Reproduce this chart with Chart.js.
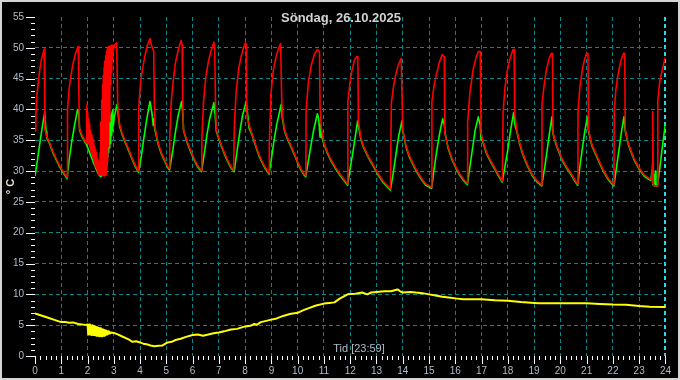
<!DOCTYPE html>
<html>
<head>
<meta charset="utf-8">
<script src="https://cdn.jsdelivr.net/npm/chart.js@4.4.1/dist/chart.umd.min.js"></script>
<style>
  html, body { margin: 0; padding: 0; background: #000; }
  #wrap { position: relative; width: 680px; height: 380px; }
</style>
</head>
<body>
<div id="wrap"><canvas id="c" width="680" height="380"></canvas></div>
<script>
// ---- Labels ----
const chartTitle = 'Söndag, 26.10.2025';
const timeLabel = 'Tid [23:59]';
const yAxisLabel = '° C';
const hourTicks = [0,1,2,3,4,5,6,7,8,9,10,11,12,13,14,15,16,17,18,19,20,21,22,23,24];
const tempTicks = [0,5,10,15,20,25,30,35,40,45,50,55];

// ---- Red series (hour, °C) ----
const redSeries = [
  [0.00,36.5],[0.03,38.5],[0.06,41.8],[0.13,44.6],[0.19,46.7],[0.25,48.2],[0.32,49.3],[0.35,49.8],[0.375,36.8],
  [0.45,35.6],[0.56,34.6],[0.68,33.2],[0.81,32.0],[0.94,30.9],[1.06,30.0],[1.22,29.0],
  [1.225,35.0],[1.25,39.9],[1.30,43.4],[1.36,45.3],[1.45,47.5],[1.55,49.2],[1.63,50.1],[1.65,50.2],[1.67,42.5],
  [1.69,37.0],[1.80,35.7],[1.96,34.5],
  [1.97,40.7],[1.985,35.2],[2.00,39.5],[2.015,34.8],[2.03,38.4],[2.045,34.4],[2.06,37.6],[2.075,34.0],
  [2.09,37.0],[2.105,33.6],[2.12,36.5],[2.135,33.2],[2.15,36.0],[2.165,32.8],[2.18,35.5],[2.195,32.3],
  [2.21,35.0],[2.225,31.9],[2.24,34.5],[2.255,31.5],[2.27,34.0],[2.285,31.1],[2.30,33.5],[2.315,30.7],
  [2.33,33.0],[2.345,30.4],[2.36,32.5],[2.375,30.1],[2.39,32.0],[2.405,29.8],[2.42,31.6],[2.435,29.5],
  [2.45,31.2],[2.465,29.4],
  [2.48,33.0],[2.495,29.4],[2.51,38.0],[2.525,29.4],[2.54,41.5],[2.555,29.3],[2.57,44.0],[2.585,29.3],
  [2.60,45.5],[2.615,29.3],[2.63,46.8],[2.645,29.2],[2.66,47.8],[2.675,29.3],[2.69,48.7],[2.705,29.4],
  [2.72,49.3],[2.735,29.8],[2.75,49.8],[2.765,31.5],[2.78,50.0],[2.795,34.0],[2.81,50.2],[2.825,38.0],
  [2.84,50.3],[2.855,41.5],[2.87,50.3],[2.885,44.0],[2.90,50.4],[2.915,46.0],[2.93,50.4],[2.945,48.0],
  [2.96,50.4],[2.975,49.5],[3.04,50.5],[3.11,50.8],[3.15,40.6],[3.20,38.0],[3.31,36.2],[3.44,34.8],[3.56,33.6],
  [3.69,32.2],[3.81,31.0],[3.94,30.0],
  [3.95,40.3],[4.02,44.5],[4.10,46.8],[4.18,48.6],[4.27,50.3],[4.375,51.5],[4.45,50.2],[4.52,49.5],
  [4.54,41.9],[4.57,37.0],[4.70,34.4],[4.81,33.0],[4.94,31.8],[5.06,30.7],[5.125,30.4],
  [5.13,35.6],[5.19,41.5],[5.26,44.5],[5.34,47.4],[5.45,49.6],[5.56,51.2],[5.60,50.5],[5.62,42.0],
  [5.65,36.7],[5.81,34.6],[5.94,33.2],[6.06,32.0],[6.19,30.9],[6.34,30.1],
  [6.35,35.0],[6.42,41.5],[6.51,45.5],[6.61,48.0],[6.71,49.6],[6.81,50.9],[6.84,50.0],[6.875,40.5],
  [6.90,36.7],[7.06,34.6],[7.19,33.2],[7.31,32.0],[7.45,30.8],[7.56,30.1],
  [7.59,37.5],[7.66,43.0],[7.76,46.8],[7.86,48.8],[7.94,50.0],[8.01,50.8],[8.04,50.6],[8.05,41.3],
  [8.08,38.5],[8.25,36.2],[8.38,34.5],[8.50,33.0],[8.62,31.8],[8.75,30.7],[8.91,29.7],
  [8.92,34.5],[8.98,42.5],[9.07,46.3],[9.19,48.8],[9.29,50.1],[9.35,50.7],[9.39,42.1],[9.42,39.0],
  [9.50,36.7],[9.62,35.3],[9.75,34.1],[9.88,32.8],[10.00,31.5],[10.12,30.4],[10.25,29.5],[10.31,29.3],
  [10.32,39.8],[10.41,44.5],[10.52,47.2],[10.64,49.0],[10.75,49.7],[10.83,49.4],[10.85,40.5],[10.90,37.0],
  [11.00,34.6],[11.12,33.2],[11.25,32.0],[11.44,30.6],[11.63,29.4],[11.78,28.6],[11.90,27.9],
  [11.91,41.3],[11.98,44.0],[12.06,46.2],[12.16,48.0],[12.25,48.6],[12.29,48.6],[12.31,38.2],[12.40,35.5],
  [12.50,34.1],[12.69,32.4],[12.88,31.0],[13.06,29.6],[13.25,28.4],[13.40,27.7],[13.53,27.1],
  [13.565,41.0],[13.63,43.2],[13.71,45.2],[13.82,47.1],[13.94,48.3],[13.97,48.3],[14.00,36.7],[14.12,34.2],
  [14.25,32.5],[14.44,30.8],[14.63,29.4],[14.75,28.6],[14.88,27.9],[15.10,27.4],
  [15.11,41.3],[15.19,43.8],[15.28,45.7],[15.39,47.6],[15.50,48.9],[15.58,48.5],[15.60,36.2],[15.72,34.0],
  [15.88,32.0],[16.04,30.5],[16.19,29.4],[16.33,28.6],[16.46,28.0],
  [16.47,37.9],[16.56,42.9],[16.68,46.5],[16.79,48.4],[16.875,49.4],[16.95,49.4],[16.98,36.2],[17.06,34.8],
  [17.19,33.0],[17.31,32.0],[17.44,31.0],[17.62,29.6],[17.79,28.4],
  [17.82,39.5],[17.89,43.5],[17.98,46.3],[18.09,48.4],[18.20,49.7],[18.24,49.7],[18.26,39.3],[18.35,36.5],
  [18.45,34.6],[18.56,33.0],[18.75,31.0],[18.94,29.4],[19.12,28.4],[19.29,27.8],
  [19.30,40.8],[19.37,43.5],[19.45,46.0],[19.56,48.1],[19.66,49.1],[19.70,49.1],[19.72,36.2],[19.85,34.3],
  [20.06,32.0],[20.25,30.6],[20.44,29.4],[20.56,28.5],[20.66,27.9],
  [20.67,39.5],[20.74,43.5],[20.83,46.3],[20.92,48.1],[21.00,49.1],[21.05,49.1],[21.07,36.7],[21.20,34.3],[21.44,32.0],
  [21.62,30.3],[21.81,28.9],[21.94,28.2],[22.04,27.8],
  [22.05,40.0],[22.12,43.5],[22.21,46.0],[22.31,48.0],[22.41,49.1],[22.45,49.1],[22.47,36.7],[22.60,34.3],
  [22.81,32.0],[23.00,30.5],[23.19,29.4],[23.35,28.9],[23.48,28.6],[23.50,31.2],[23.51,28.0],[23.52,39.6],
  [23.54,27.8],[23.60,27.6],[23.69,27.6],
  [23.71,41.5],[23.78,44.5],[23.87,46.2],[23.95,47.7],[24.00,48.5]
];

// ---- Green series (hour, °C) ----
const greenSeries = [
  [0.00,29.2],[0.05,30.6],[0.10,32.0],[0.15,33.5],[0.20,35.0],[0.25,36.4],[0.30,37.8],[0.37,39.5],
  [0.42,36.4],[0.45,35.4],[0.56,34.4],[0.68,33.0],[0.81,31.8],[0.94,30.7],[1.06,29.8],[1.22,28.8],
  [1.30,31.8],[1.40,34.8],[1.50,37.3],[1.62,40.0],[1.66,39.5],[1.70,36.6],[1.80,35.5],[1.96,34.3],
  [2.10,32.8],[2.25,31.1],[2.40,29.6],[2.50,29.1],[2.56,29.3],
  [2.575,35.2],[2.59,29.4],[2.605,35.6],[2.62,29.6],[2.635,36.0],[2.65,29.8],[2.665,36.4],[2.68,30.2],
  [2.695,36.8],[2.71,30.8],[2.725,37.2],[2.74,31.5],[2.755,37.6],[2.77,32.2],[2.785,38.0],[2.80,33.0],
  [2.815,38.4],[2.83,33.8],[2.845,38.7],[2.86,34.5],[2.875,39.0],[2.89,35.2],[2.905,39.3],[2.92,35.8],
  [2.935,39.6],[2.95,36.5],[2.965,39.9],[2.98,37.3],[3.02,38.8],[3.08,40.0],[3.12,40.8],[3.16,39.5],
  [3.22,37.3],[3.31,36.0],[3.44,34.6],[3.56,33.4],[3.69,32.0],[3.81,30.8],[3.94,29.8],
  [4.05,32.5],[4.15,35.5],[4.25,38.3],[4.375,41.3],[4.45,39.5],[4.50,37.4],[4.52,38.5],[4.56,36.8],
  [4.70,34.2],[4.81,32.8],[4.94,31.6],[5.06,30.5],[5.125,30.2],
  [5.25,33.5],[5.35,36.5],[5.45,39.0],[5.58,41.3],[5.62,39.5],[5.66,36.5],[5.81,34.4],[5.94,33.0],
  [6.06,31.8],[6.19,30.7],[6.34,29.9],
  [6.45,33.0],[6.55,36.0],[6.65,38.5],[6.81,41.1],[6.86,39.0],[6.90,36.5],[7.06,34.4],[7.19,33.0],
  [7.31,31.8],[7.45,30.6],[7.58,29.9],
  [7.70,33.5],[7.80,36.5],[7.90,39.0],[8.04,41.3],[8.10,39.0],[8.15,37.0],[8.25,36.0],[8.38,34.3],
  [8.50,32.8],[8.62,31.6],[8.75,30.5],[8.91,29.5],
  [9.00,32.0],[9.10,35.0],[9.20,37.5],[9.37,40.8],[9.42,38.5],[9.50,36.5],[9.62,35.1],[9.75,33.9],
  [9.88,32.6],[10.00,31.3],[10.12,30.2],[10.25,29.3],[10.31,29.1],
  [10.40,31.5],[10.50,34.0],[10.60,36.5],[10.75,39.3],[10.80,38.5],[10.85,35.5],[10.87,37.5],[10.92,35.5],
  [11.00,34.4],[11.12,33.0],[11.25,31.8],[11.44,30.4],[11.63,29.2],[11.78,28.4],[11.90,27.7],
  [12.00,30.5],[12.10,33.0],[12.20,35.8],[12.28,38.1],[12.35,36.5],[12.40,35.3],[12.50,33.9],[12.69,32.2],
  [12.88,30.8],[13.06,29.4],[13.25,28.2],[13.40,27.5],[13.53,26.9],
  [13.65,30.0],[13.75,33.0],[13.85,35.8],[13.97,38.1],[14.00,36.5],[14.12,34.0],[14.25,32.3],[14.44,30.6],
  [14.63,29.2],[14.75,28.4],[14.88,27.7],[15.10,27.2],
  [15.20,30.5],[15.30,33.5],[15.40,36.0],[15.52,38.5],[15.58,37.5],[15.62,36.0],[15.72,33.8],[15.88,31.8],
  [16.04,30.3],[16.19,29.2],[16.33,28.4],[16.46,27.8],
  [16.55,30.5],[16.65,33.5],[16.75,36.5],[16.875,38.8],[16.95,37.5],[16.98,35.0],[17.00,35.5],[17.06,34.6],
  [17.19,32.8],[17.31,31.8],[17.44,30.8],[17.62,29.4],[17.79,28.2],
  [17.90,31.0],[18.00,33.5],[18.10,36.5],[18.22,39.5],[18.27,37.5],[18.35,36.3],[18.45,34.4],[18.56,32.8],
  [18.75,30.8],[18.94,29.2],[19.12,28.2],[19.29,27.6],
  [19.40,30.5],[19.50,33.5],[19.58,36.0],[19.68,38.8],[19.72,36.0],[19.85,34.1],[20.06,31.8],[20.25,30.4],
  [20.44,29.2],[20.56,28.3],[20.66,27.7],
  [20.75,31.0],[20.85,34.0],[20.93,36.5],[21.03,38.8],[21.07,36.5],[21.20,34.1],[21.44,31.8],[21.62,30.1],
  [21.81,28.7],[21.94,28.0],[22.04,27.6],
  [22.15,31.0],[22.25,34.0],[22.33,36.5],[22.42,38.8],[22.47,36.5],[22.60,34.1],[22.81,31.8],[23.00,30.3],
  [23.19,29.2],[23.35,28.7],[23.44,28.5],[23.50,30.3],[23.52,27.8],[23.56,29.5],[23.58,27.6],[23.62,30.0],
  [23.64,27.6],[23.69,27.5],
  [23.80,31.0],[23.90,34.5],[24.00,37.7]
];

// ---- Yellow series (hour, °C) ----
const yellowSeries = [
  [0.00,6.9],[0.15,6.7],[0.30,6.5],[0.50,6.2],[0.71,5.9],[0.85,5.7],[1.00,5.5],[1.15,5.5],
  [1.30,5.4],[1.45,5.45],[1.55,5.3],[1.65,5.2],[1.80,5.1],[1.95,5.05],
  [2.00,5.1],[2.03,3.5],[2.06,5.1],[2.09,3.5],[2.12,5.0],[2.15,3.4],[2.18,5.0],[2.21,3.4],
  [2.24,4.9],[2.27,3.4],[2.30,4.8],[2.33,3.3],[2.36,4.7],[2.39,3.3],[2.42,4.6],[2.45,3.2],
  [2.48,4.5],[2.51,3.2],[2.54,4.4],[2.57,3.2],[2.60,4.3],[2.63,3.3],[2.66,4.2],[2.69,3.4],
  [2.72,4.1],[2.75,3.5],[2.78,4.0],[2.81,3.6],[2.84,3.9],[2.87,3.7],[2.90,3.8],
  [3.00,3.75],[3.15,3.5],[3.30,3.2],[3.46,2.9],[3.60,2.6],[3.71,2.3],[3.85,2.4],[4.00,2.2],
  [4.12,2.0],[4.25,1.9],[4.40,1.7],[4.55,1.6],[4.70,1.65],[4.84,1.7],[5.00,2.1],[5.10,2.25],
  [5.20,2.3],[5.35,2.6],[5.55,2.8],[5.75,3.1],[6.00,3.4],[6.20,3.5],[6.40,3.3],[6.60,3.5],
  [6.80,3.7],[7.00,3.8],[7.20,4.0],[7.46,4.3],[7.69,4.4],[8.00,4.8],[8.20,4.9],[8.35,5.2],
  [8.44,5.05],[8.60,5.5],[8.80,5.7],[9.00,5.9],[9.20,6.1],[9.45,6.5],[9.70,6.8],[10.00,7.0],
  [10.20,7.4],[10.45,7.8],[10.70,8.2],[11.00,8.5],[11.20,8.6],[11.40,8.7],[11.60,9.3],[11.90,10.0],
  [12.00,10.05],[12.20,10.1],[12.45,10.3],[12.65,10.0],[12.80,10.3],[13.00,10.4],[13.30,10.5],[13.55,10.5],
  [13.80,10.8],[13.90,10.5],[14.00,10.3],[14.30,10.4],[14.50,10.3],[14.75,10.2],[15.00,10.0],[15.25,9.8],
  [15.50,9.6],[15.75,9.5],[16.00,9.35],[16.30,9.2],[16.70,9.2],[17.00,9.2],[17.50,9.05],[18.00,8.95],
  [18.50,8.75],[19.00,8.6],[19.20,8.55],[19.50,8.55],[20.00,8.55],[20.50,8.55],[21.00,8.55],[21.50,8.45],
  [22.00,8.35],[22.50,8.3],[23.00,8.1],[23.40,8.0],[24.00,7.95]
];

const toXY = arr => arr.map(p => ({ x: p[0], y: p[1] }));

const GRID = '#07878c';
const LABEL = '#aebccb';

const decor = {
  id: 'decor',
  beforeDraw(chart) {
    const ctx = chart.ctx;
    ctx.save();
    ctx.fillStyle = '#000';
    ctx.fillRect(0, 0, chart.width, chart.height);
    ctx.restore();
  },
  afterDraw(chart) {
    const { ctx, chartArea: a, scales } = chart;
    const x = scales.x, y = scales.y;
    ctx.save();
    ctx.strokeStyle = '#ffffff';
    ctx.lineWidth = 1;
    ctx.beginPath();
    const yMajor = tempTicks[1] - tempTicks[0];
    for (let v = tempTicks[0]; v <= tempTicks[tempTicks.length - 1]; v++) {
      const py = Math.round(y.getPixelForValue(v)) + 0.5;
      const len = (v % yMajor === 0) ? 9 : 4;
      ctx.moveTo(a.left - len, py);
      ctx.lineTo(a.left, py);
    }
    const last = hourTicks[hourTicks.length - 1];
    for (let i = 0; i <= last * 5; i++) {
      const px = Math.round(x.getPixelForValue(i / 5)) + 0.5;
      const len = (i % 5 === 0) ? 8 : 4;
      ctx.moveTo(px, a.bottom);
      ctx.lineTo(px, a.bottom + len);
    }
    ctx.stroke();

    // title inside plot
    ctx.fillStyle = '#d2d2d2';
    ctx.font = 'bold 13px "Liberation Sans", Arial, sans-serif';
    ctx.textAlign = 'center';
    ctx.textBaseline = 'alphabetic';
    ctx.fillText(chartTitle, 341, 22);

    // time label above x axis
    ctx.fillStyle = LABEL;
    ctx.font = '11px "Liberation Sans", Arial, sans-serif';
    ctx.fillText(timeLabel, 359, 352);

    // outer frame
    ctx.strokeStyle = '#d4d4d4';
    ctx.lineWidth = 2;
    ctx.strokeRect(1, 1, chart.width - 2, chart.height - 2);
    ctx.restore();
  }
};

const lineStyle = { pointRadius: 0, tension: 0, borderJoinStyle: 'round', borderCapStyle: 'butt' };

new Chart(document.getElementById('c'), {
  type: 'line',
  data: {
    datasets: [
      Object.assign({ label: 'red', data: toXY(redSeries), borderColor: '#ff0000', borderWidth: 1.6, order: 0 }, lineStyle),
      Object.assign({ label: 'green', data: toXY(greenSeries), borderColor: '#00ff00', borderWidth: 1.6, order: 1 }, lineStyle),
      Object.assign({ label: 'yellow', data: toXY(yellowSeries), borderColor: '#ffff00', borderWidth: 2, order: 2 }, lineStyle)
    ]
  },
  options: {
    responsive: false,
    animation: false,
    devicePixelRatio: 1,
    layout: { padding: { left: 0, right: 5, top: 3, bottom: 0 } },
    plugins: { legend: { display: false }, tooltip: { enabled: false }, title: { display: false } },
    scales: {
      x: {
        type: 'linear',
        min: hourTicks[0],
        max: hourTicks[hourTicks.length - 1],
        afterBuildTicks: s => { s.ticks = hourTicks.map(v => ({ value: v })); },
        afterFit: s => { s.height = 24; },
        ticks: { autoSkip: false, maxRotation: 0, color: LABEL, padding: 9,
                 font: { family: '"Liberation Sans", Arial, sans-serif', size: 10 } },
        grid: {
          drawTicks: false,
          color: c => c.tick && c.tick.value === hourTicks[0] ? 'rgba(0,0,0,0)' : (c.tick && c.tick.value === hourTicks[hourTicks.length - 1] ? '#25dbe6' : GRID),
          lineWidth: c => c.tick && c.tick.value === hourTicks[hourTicks.length - 1] ? 2 : 1
        },
        border: { display: false, dash: [4, 3] }
      },
      y: {
        type: 'linear',
        min: tempTicks[0],
        max: tempTicks[tempTicks.length - 1],
        afterBuildTicks: s => { s.ticks = tempTicks.map(v => ({ value: v })); },
        afterFit: s => { s.width = 35; },
        ticks: { color: LABEL, padding: 11,
                 font: { family: '"Liberation Sans", Arial, sans-serif', size: 10 } },
        grid: {
          drawTicks: false,
          color: c => c.tick && (c.tick.value === tempTicks[0] || c.tick.value === tempTicks[tempTicks.length - 1]) ? 'rgba(0,0,0,0)' : GRID
        },
        border: { display: false, dash: [4, 3] },
        title: { display: true, text: yAxisLabel, color: '#efe6d6',
                 font: { family: '"Liberation Sans", Arial, sans-serif', size: 11, weight: 'bold' },
                 padding: { top: 4, bottom: 0 } }
      }
    }
  },
  plugins: [decor]
});
</script>
</body>
</html>
